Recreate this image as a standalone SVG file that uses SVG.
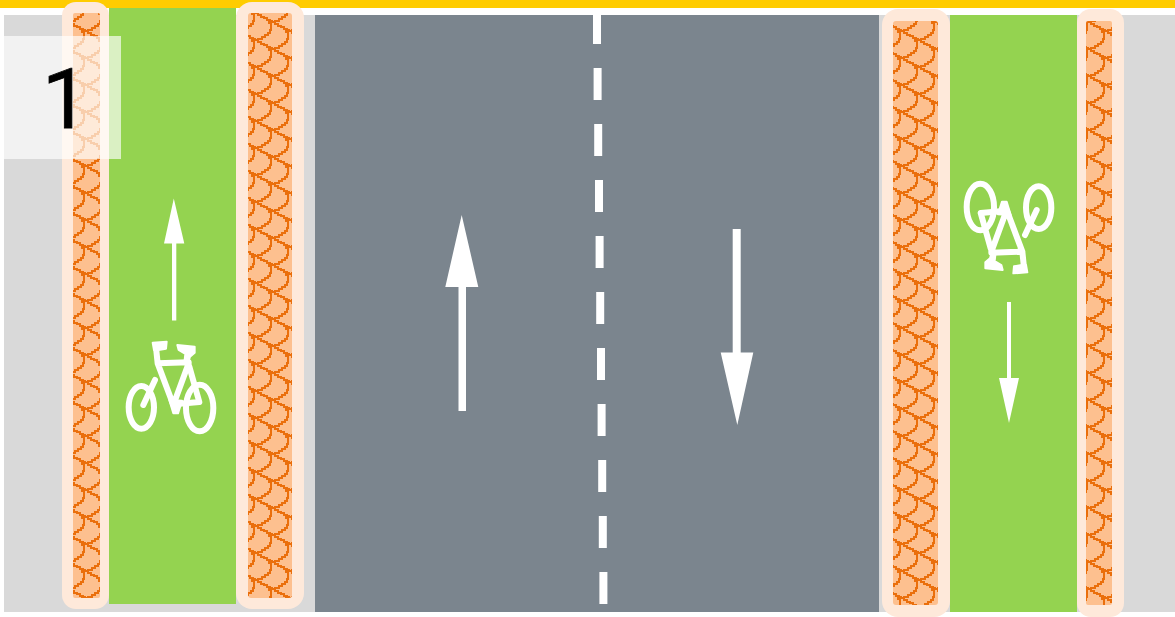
<svg xmlns="http://www.w3.org/2000/svg" xmlns:xlink="http://www.w3.org/1999/xlink" width="1175" height="617" viewBox="0 0 1175 617">
<style>
.halo{fill:#fee9da}
.road{fill:#7b858e}
.grass{fill:#94d350}
.mark{fill:#fff}
.bk{fill:none;stroke:#fff;stroke-width:18;stroke-linecap:round;stroke-linejoin:round}
.bt{fill:none;stroke:#fff;stroke-width:18;stroke-linecap:round;stroke-linejoin:round}
.bf{fill:#fff;stroke:#fff;stroke-width:6;stroke-linejoin:round}
.sc{fill:none;stroke:#ea6f0c;stroke-width:2;shape-rendering:crispEdges}
</style>
<defs>
<path id="scale" class="sc" d="M0,0H3V2H6V4H9V5H12V7H15V8H17V9M14,7V10H16V17H15V20H13V22H10V24H7V26H3V27H0"/>
<pattern id="tex" patternUnits="userSpaceOnUse" width="51" height="27" x="0" y="13">
<rect width="51" height="27" fill="#fdc08f"/>
<use href="#scale"/><use href="#scale" x="17" y="9"/><use href="#scale" x="34" y="18"/><use href="#scale" x="51"/><use href="#scale" x="-17" y="18"/>
<use href="#scale" y="-27"/><use href="#scale" x="17" y="-18"/><use href="#scale" x="34" y="-9"/><use href="#scale" x="51" y="-27"/><use href="#scale" x="-17" y="-9"/>
</pattern>
<g id="bike">
<g transform="translate(110,330) scale(0.3333)">
<ellipse class="bk" cx="94" cy="232" rx="38" ry="64"/>
<ellipse class="bk" cx="269" cy="234" rx="41" ry="70"/>
<path class="bk" d="M238,110L268,216L200,222M135,150L100,225"/>
<path class="bt" d="M143,100L190,225L236,100M143,100L236,97M143,100L138,52"/>
<path class="bf" d="M128,38L170,35L168,56L145,60L132,60Z"/>
<path class="bf" d="M202,45L254,50L254,68L240,80L234,100L224,90L226,72L206,60Z"/>
<path class="bf" d="M178,210L216,212L204,250L190,250Z"/>
</g>
</g>
</defs>
<g id="kerb-top"><rect x="0" y="0" width="1175" height="8" fill="#ffcc00"/></g>
<g id="verge"><rect x="4" y="15" width="1171" height="597" fill="#d9d9d9"/></g>
<g id="carriageway"><rect class="road" x="315" y="15" width="564" height="597"/></g>
<g id="cycle-lane-left"><rect class="grass" x="109" y="8" width="127" height="596"/></g>
<g id="cycle-lane-right"><rect class="grass" x="950" y="15" width="127" height="597"/></g>
<g id="buffer-1"><rect class="halo" x="62" y="2" width="47" height="607" rx="14"/><rect x="73" y="13" width="27" height="585" rx="2" fill="url(#tex)"/></g>
<g id="buffer-2"><rect class="halo" x="236" y="2" width="68" height="607" rx="16"/><rect x="248" y="13" width="44" height="585" rx="3" fill="url(#tex)"/></g>
<g id="buffer-3"><rect class="halo" x="882" y="9" width="68" height="608" rx="16"/><rect x="893" y="21" width="45" height="584" rx="3" fill="url(#tex)"/></g>
<g id="buffer-4"><rect class="halo" x="1077" y="9" width="47" height="608" rx="14"/><rect x="1086" y="21" width="26" height="584" rx="2" fill="url(#tex)"/></g>
<g id="centre-line">
<rect class="mark" x="593" y="15" width="8" height="29"/>
<rect class="mark" x="593.6" y="68" width="8" height="32"/>
<rect class="mark" x="594.2" y="124" width="8" height="32"/>
<rect class="mark" x="595" y="180" width="8" height="32"/>
<rect class="mark" x="595.6" y="236" width="8" height="32"/>
<rect class="mark" x="596.2" y="292" width="8" height="32"/>
<rect class="mark" x="597" y="348" width="8" height="32"/>
<rect class="mark" x="597.6" y="404" width="8" height="32"/>
<rect class="mark" x="598.2" y="460" width="8" height="32"/>
<rect class="mark" x="598.8" y="516" width="8" height="32"/>
<rect class="mark" x="599.4" y="572" width="8" height="32"/>
</g>
<g id="arrow-up-road"><path class="mark" d="M461.7,215L478.3,287L466,287L466,411L458.5,411L458.5,287L445.3,287Z"/></g>
<g id="arrow-down-road"><path class="mark" d="M737.3,425L753.3,352.5L740.7,352.5L740.7,229L732.7,229L732.7,352.5L720.7,352.5Z"/></g>
<g id="arrow-up-lane"><path class="mark" d="M173.8,198.5L184.3,243.5L176.3,243.5L176.3,320.5L172,320.5L172,243.5L164,243.5Z"/></g>
<g id="arrow-down-lane"><path class="mark" d="M1009,423L1019,378L1011,378L1011,302L1007,302L1007,378L999,378Z"/></g>
<g id="bike-left"><use href="#bike"/></g>
<g id="bike-right"><use href="#bike" transform="translate(1010,230) rotate(180) translate(-170,-385)"/></g>
<g id="panel">
<rect x="4" y="36" width="117" height="123" fill="#fff" fill-opacity="0.66"/>
<text x="42" y="128" font-family="Roboto,Arial,sans-serif" font-size="84" fill="#000" stroke="#000" stroke-width="0.8">1</text>
</g>
</svg>
